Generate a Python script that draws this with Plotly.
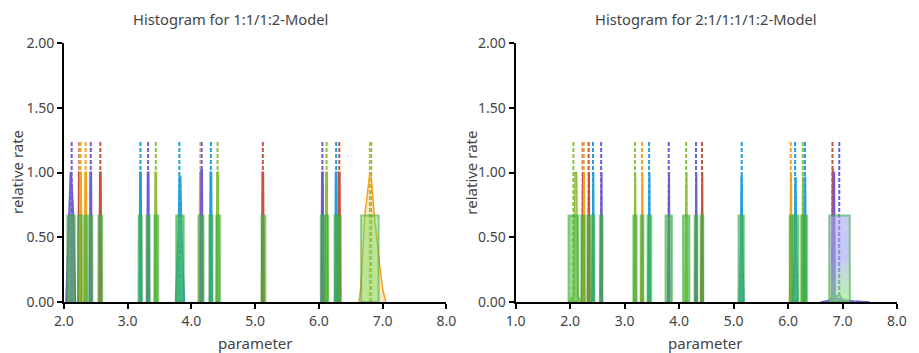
import plotly.graph_objects as go

# ---------------- colours ----------------
PALETTE = {
    "purple": "#6e5bd6",
    "red": "#c4553c",
    "orange": "#f5a31e",
    "blue": "#1f9fdc",
    "olive": "#8dbf3e",
}

def rgba(hex_color, a):
    h = hex_color.lstrip("#")
    r, g, b = int(h[0:2], 16), int(h[2:4], 16), int(h[4:6], 16)
    return f"rgba({r},{g},{b},{a})"

# ---------------- data: left panel (1:1/1:2-Model) ----------------
left_true = [2.12, 2.24, 2.26, 2.34, 2.42, 2.57, 3.20, 3.32, 3.44, 3.81, 4.14, 4.16,
             4.305, 4.41, 5.12, 6.055, 6.12, 6.27, 6.32, 6.80, 6.82]
left_true_col = ["purple", "red", "orange", "orange", "purple", "red", "blue", "purple", "olive",
                 "blue", "orange", "purple", "blue", "olive", "red", "purple", "olive", "blue",
                 "red", "orange", "olive"]

left_spike_x = [2.24, 2.26, 2.34, 2.42, 2.57, 3.20, 3.32, 3.44, 4.14, 4.16, 4.305, 4.41,
                5.12, 6.055, 6.12, 6.27, 6.32]
left_spike_h = [1.0, 1.0, 1.0, 1.0, 1.0, 1.0, 1.0, 1.0, 1.0, 1.02, 1.0, 1.0,
                1.0, 1.0, 1.0, 1.0, 1.0]
left_spike_col = ["red", "orange", "orange", "purple", "red", "blue", "purple", "olive",
                  "orange", "purple", "blue", "olive", "red", "purple", "olive", "blue", "red"]

left_wide_x = [
    [2.03, 2.075, 2.10, 2.115, 2.15, 2.18],
    [3.75, 3.79, 3.81, 3.83, 3.85, 3.89],
    [6.63, 6.66, 6.72, 6.79, 6.80, 6.82, 6.87, 6.95, 7.00, 7.05],
]
left_wide_y = [
    [0, 0.667, 1.0, 1.0, 0.667, 0],
    [0, 0.5, 0.97, 0.97, 0.5, 0],
    [0, 0.13, 0.667, 0.97, 1.0, 0.97, 0.667, 0.3, 0.1, 0],
]
left_wide_col = ["purple", "blue", "orange"]
left_wide_alpha = [0.8, 0.8, 0.25]

left_bar_x = [2.11, 2.25, 2.34, 2.42, 2.57, 3.195, 3.32, 3.45, 3.82, 4.15, 4.305, 4.42,
              5.13, 6.055, 6.12, 6.27, 6.32, 6.80]
left_bar_w = [0.12, 0.06, 0.05, 0.05, 0.06, 0.05, 0.05, 0.06, 0.12, 0.08, 0.05, 0.06,
              0.06, 0.05, 0.05, 0.05, 0.05, 0.275]
left_bar_h = [0.667] * len(left_bar_x)

# ---------------- data: right panel (2:1/1:1/1:2-Model) ----------------
right_true = [2.06, 2.23, 2.25, 2.34, 2.42, 2.57, 3.19, 3.32, 3.45, 3.81, 4.13, 4.31, 4.42,
              5.15, 6.05, 6.13, 6.27, 6.31, 6.815, 6.94]
right_true_col = ["olive", "red", "orange", "red", "blue", "purple", "olive", "orange", "blue",
                  "purple", "olive", "purple", "red", "blue", "orange", "blue", "olive", "blue",
                  "red", "purple"]

right_spike_x = [2.23, 2.25, 2.34, 2.42, 2.57, 3.19, 3.32, 3.45, 3.81, 4.13, 4.31, 4.42,
                 6.05, 6.27, 6.31, 6.815]
right_spike_h = [1.0, 1.0, 1.0, 1.0, 1.0, 1.0, 1.0, 1.0, 1.0, 1.0, 1.0, 1.0,
                 1.0, 0.97, 0.97, 1.03]
right_spike_col = ["red", "orange", "red", "blue", "purple", "olive", "orange", "blue",
                   "purple", "olive", "purple", "red", "orange", "olive", "blue", "red"]

right_wide_x = [
    [1.97, 2.07, 2.09, 2.12, 2.14, 2.20],
    [5.10, 5.13, 5.14, 5.155, 5.165, 5.19],
    [6.09, 6.12, 6.13, 6.145, 6.155, 6.18],
    [6.60, 6.75, 6.82, 6.835, 6.85, 6.865, 6.90, 7.00, 7.20, 7.50],
    [6.80, 6.85, 6.90, 6.95, 7.00, 7.10],
]
right_wide_y = [
    [0, 0.05, 1.0, 1.0, 0.05, 0],
    [0, 0.4, 0.97, 0.97, 0.4, 0],
    [0, 0.4, 0.96, 0.96, 0.4, 0],
    [0, 0.012, 0.05, 1.0, 1.0, 0.05, 0.03, 0.018, 0.008, 0],
    [0, 0.06, 0.045, 0.05, 0.02, 0],
]
right_wide_col = ["olive", "blue", "blue", "purple", "#2e9a8a"]
right_wide_alpha = [0.45, 0.8, 0.8, 0.8, 0.0]

right_bar_x = [2.06, 2.235, 2.34, 2.42, 2.57, 3.19, 3.32, 3.455, 3.81, 4.13, 4.31, 4.42,
               5.14, 6.055, 6.14, 6.27, 6.32, 6.945]
right_bar_w = [0.18, 0.06, 0.05, 0.05, 0.05, 0.06, 0.05, 0.07, 0.12, 0.12, 0.05, 0.05,
               0.10, 0.05, 0.10, 0.06, 0.06, 0.38]
right_bar_h = [0.667] * len(right_bar_x)

TRUE_TOP = 1.25

BAR_FILL = "rgba(70,190,60,0.55)"
BAR_LINE = "rgba(60,170,60,0.55)"

fig = go.Figure()


def add_panel(xa, ya, true_x, true_c, spike_x, spike_h, spike_c,
              wide_x, wide_y, wide_c, wide_a, bar_x, bar_w, bar_h, gradient_last):
    # true values: white underlay + coloured dashes
    for x, c in zip(true_x, true_c):
        fig.add_trace(go.Scatter(x=[x, x], y=[0, TRUE_TOP], mode="lines", xaxis=xa, yaxis=ya,
                                 line=dict(color="white", width=2), hoverinfo="skip",
                                 showlegend=False))
        fig.add_trace(go.Scatter(x=[x, x], y=[0, TRUE_TOP], mode="lines", xaxis=xa, yaxis=ya,
                                 line=dict(color=PALETTE[c], width=2, dash="4px,2px"),
                                 hoverinfo="skip", showlegend=False))
    # narrow posterior densities (thin peaks)
    for x, h, c in zip(spike_x, spike_h, spike_c):
        fig.add_trace(go.Scatter(x=[x - 0.016, x - 0.006, x + 0.006, x + 0.016],
                                 y=[0, h, h, 0],
                                 mode="lines", fill="toself", xaxis=xa, yaxis=ya,
                                 line=dict(color=PALETTE[c], width=2),
                                 fillcolor=PALETTE[c], hoverinfo="skip", showlegend=False))
    # wider posterior densities
    for xs, ys, c, a in zip(wide_x, wide_y, wide_c, wide_a):
        col = PALETTE.get(c, c)
        kw = dict(fill="toself", fillcolor=rgba(col, a)) if a > 0 else {}
        fig.add_trace(go.Scatter(x=xs, y=ys, mode="lines", xaxis=xa, yaxis=ya,
                                 line=dict(color=col, width=1.5), hoverinfo="skip",
                                 showlegend=False, **kw))
    # histogram bars
    n = len(bar_x)
    for i, (x, w, h) in enumerate(zip(bar_x, bar_w, bar_h)):
        lo, hi = x - w / 2, x + w / 2
        kw = dict(fillcolor=BAR_FILL)
        if gradient_last and i == n - 1:
            kw = dict(fillgradient=dict(
                type="vertical",
                colorscale=[[0, "rgba(140,228,120,0.6)"], [0.2, "rgba(150,215,160,0.6)"],
                            [0.5, "rgba(160,165,238,0.6)"], [1, "rgba(165,165,240,0.6)"]]))
        elif w > 0.2:
            kw = dict(fillcolor="rgba(110,225,90,0.45)")
        fig.add_trace(go.Scatter(x=[lo, lo, hi, hi, lo], y=[0, h, h, 0, 0], mode="lines",
                                 fill="toself", xaxis=xa, yaxis=ya,
                                 line=dict(color=BAR_LINE, width=2), hoverinfo="skip",
                                 showlegend=False, **kw))


add_panel("x", "y", left_true, left_true_col, left_spike_x, left_spike_h, left_spike_col,
          left_wide_x, left_wide_y, left_wide_col, left_wide_alpha,
          left_bar_x, left_bar_w, left_bar_h, False)
add_panel("x2", "y2", right_true, right_true_col, right_spike_x, right_spike_h, right_spike_col,
          right_wide_x, right_wide_y, right_wide_col, right_wide_alpha,
          right_bar_x, right_bar_w, right_bar_h, True)

FONT = "Noto Sans, Open Sans, sans-serif"
axis_common = dict(showline=True, linecolor="black", linewidth=2, ticks="outside",
                   tickcolor="black", ticklen=5, tickwidth=2, showgrid=False, zeroline=False,
                   tickfont=dict(size=14, color="#444", family=FONT))

# the page body has an 8px default margin, so the figure is sized to compensate
fig.update_layout(
    width=911, height=345,
    margin=dict(l=56, r=14, t=35, b=51),
    paper_bgcolor="white", plot_bgcolor="white",
    font=dict(family=FONT, color="#444"),
    showlegend=False,
    xaxis=dict(domain=[0, 0.459], range=[2, 8], dtick=1, tickformat=".1f", anchor="y",
               **axis_common),
    yaxis=dict(domain=[0, 1], range=[0, 2], dtick=0.5, tickformat=".2f", anchor="x",
               **axis_common),
    xaxis2=dict(domain=[0.5422, 1], range=[1, 8], dtick=1, tickformat=".1f", anchor="y2",
                **axis_common),
    yaxis2=dict(domain=[0, 1], range=[0, 2], dtick=0.5, tickformat=".2f", anchor="x2",
                **axis_common),
)

annots = [
    dict(text="Histogram for 1:1/1:2-Model", x=0.1998, y=1.0927, font=dict(size=14.7)),
    dict(text="Histogram for 2:1/1:1/1:2-Model", x=0.7705, y=1.0927, font=dict(size=14.7)),
    dict(text="parameter", x=0.2295, y=-0.158, font=dict(size=15)),
    dict(text="parameter", x=0.7705, y=-0.158, font=dict(size=15)),
    dict(text="relative rate", x=-0.0570, y=0.5, textangle=-90, font=dict(size=15)),
    dict(text="relative rate", x=0.4876, y=0.5, textangle=-90, font=dict(size=15)),
]
for a in annots:
    fig.add_annotation(xref="paper", yref="paper", showarrow=False, xanchor="center",
                       yanchor="middle", **a)

fig.write_html("out.html")
